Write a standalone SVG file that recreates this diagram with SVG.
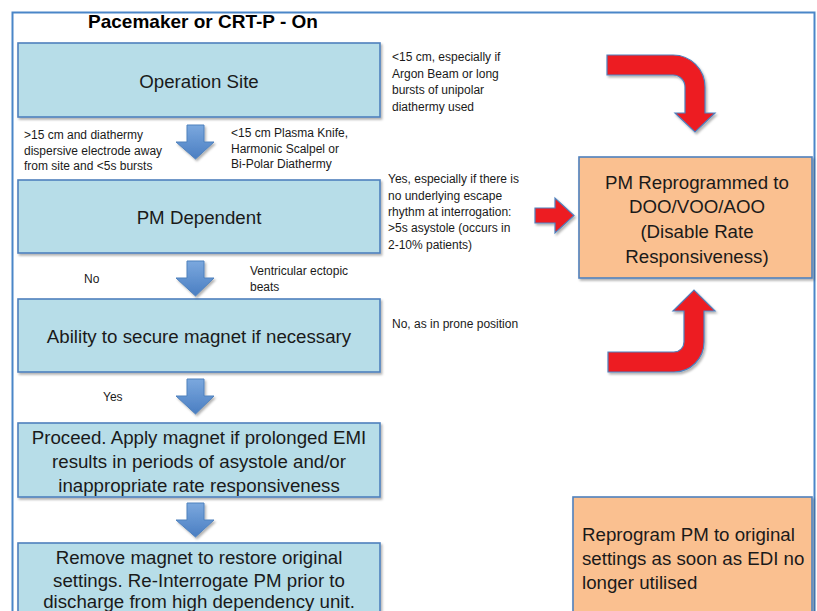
<svg xmlns="http://www.w3.org/2000/svg" width="817" height="611" viewBox="0 0 817 611">
<defs>
  <filter id="sh" x="-5%" y="-5%" width="115%" height="120%">
    <feDropShadow dx="1.5" dy="2" stdDeviation="1.2" flood-color="#000" flood-opacity="0.3"/>
  </filter>
  <linearGradient id="bg" x1="0" y1="0" x2="0" y2="1">
    <stop offset="0" stop-color="#7ba8de"/>
    <stop offset="1" stop-color="#4a7ec2"/>
  </linearGradient>
  <style>
    .box{fill:#b7dde8;stroke:#4f81bd;stroke-width:1.6;filter:url(#sh)}
    .obox{fill:#fac090;stroke:#4f81bd;stroke-width:1.6;filter:url(#sh)}
    .big{font-family:"Liberation Sans",Arial,sans-serif;font-size:18.7px;fill:#1a1a1a}
    .mid{text-anchor:middle}
    .sm{font-family:"Liberation Sans",Arial,sans-serif;font-size:12px;fill:#1a1a1a}
    .title{font-family:"Liberation Sans",Arial,sans-serif;font-size:19px;font-weight:bold;fill:#000}
    .barrow{fill:url(#bg);stroke:#4f81bd;stroke-width:1;filter:url(#sh)}
    .rarrow{fill:#ed1c24;stroke:#4f81bd;stroke-width:1.2;filter:url(#sh)}
  </style>
</defs>
<rect width="817" height="611" fill="#fff"/>
<rect id="frame" x="12.5" y="12.5" width="802" height="700" fill="none" stroke="#4a86c8" stroke-width="2"/>
<text class="title mid" x="203" y="28">Pacemaker or CRT-P - On</text>

<g id="operation-site">
  <rect class="box" x="18" y="43" width="362" height="74"/>
  <text class="big mid" x="199" y="88">Operation Site</text>
</g>
<g id="pm-dependent">
  <rect class="box" x="18" y="180" width="362" height="73"/>
  <text class="big mid" x="199" y="224">PM Dependent</text>
</g>
<g id="ability-magnet">
  <rect class="box" x="18" y="299" width="362" height="73"/>
  <text class="big mid" x="199" y="343">Ability to secure magnet if necessary</text>
</g>
<g id="proceed">
  <rect class="box" x="18" y="423" width="362" height="74"/>
  <text class="big mid" x="199" y="444">Proceed. Apply magnet if prolonged EMI</text>
  <text class="big mid" x="199" y="468">results in periods of asystole and/or</text>
  <text class="big mid" x="199" y="492">inappropriate rate responsiveness</text>
</g>
<g id="remove-magnet">
  <rect class="box" x="18" y="543" width="362" height="90"/>
  <text class="big mid" x="199" y="564">Remove magnet to restore original</text>
  <text class="big mid" x="199" y="587">settings. Re-Interrogate PM prior to</text>
  <text class="big mid" x="199" y="608">discharge from high dependency unit.</text>
</g>
<g id="pm-reprogrammed">
  <rect class="obox" x="579" y="157" width="233" height="121"/>
  <text class="big mid" x="697" y="189">PM Reprogrammed to</text>
  <text class="big mid" x="697" y="213">DOO/VOO/AOO</text>
  <text class="big mid" x="697" y="238">(Disable Rate</text>
  <text class="big mid" x="697" y="263">Responsiveness)</text>
</g>
<g id="reprogram-original">
  <rect class="obox" x="573" y="497" width="239" height="130"/>
  <text class="big" x="582" y="541">Reprogram PM to original</text>
  <text class="big" x="582" y="565">settings as soon as EDI no</text>
  <text class="big" x="582" y="589">longer utilised</text>
</g>

<g id="connectors">
  <path class="barrow" d="M187,125 H204 V142 H214 L195.5,159 L176,142 H187 Z"/>
  <path class="barrow" d="M187,261 H204 V278 H214 L195.5,296 L176,278 H187 Z"/>
  <path class="barrow" d="M187,379 H204 V396 H214 L195.5,414 L176,396 H187 Z"/>
  <path class="barrow" d="M187,503 H204 V520 H214 L195.5,537 L176,520 H187 Z"/>
  <path class="rarrow" d="M607,55 H673 A32,32 0 0 1 705,87 V113 H715 L695,132 L675,113 H685 V87 A12,12 0 0 0 673,75 H607 Z"/>
  <path class="rarrow" d="M535,208 H555 V198 L574,215.5 L555,233 V223 H535 Z"/>
  <path class="rarrow" d="M608,352 H674 A10,10 0 0 0 684,342 V311 H673 L694,290 L715,311 H704 V342 A30,30 0 0 1 674,372 H608 Z"/>
</g>

<g id="labels">
  <text class="sm" x="24" y="139">&gt;15 cm and diathermy</text>
  <text class="sm" x="24" y="155">dispersive electrode away</text>
  <text class="sm" x="24" y="170">from site and &lt;5s bursts</text>
  <text class="sm" x="231" y="137">&lt;15 cm Plasma Knife,</text>
  <text class="sm" x="231" y="153">Harmonic Scalpel or</text>
  <text class="sm" x="231" y="168">Bi-Polar Diathermy</text>
  <text class="sm" x="392" y="61">&lt;15 cm, especially if</text>
  <text class="sm" x="392" y="78">Argon Beam or long</text>
  <text class="sm" x="392" y="94">bursts of unipolar</text>
  <text class="sm" x="392" y="111">diathermy used</text>
  <text class="sm" x="388" y="183">Yes, especially if there is</text>
  <text class="sm" x="388" y="200">no underlying escape</text>
  <text class="sm" x="388" y="216">rhythm at interrogation:</text>
  <text class="sm" x="388" y="232">&gt;5s asystole (occurs in</text>
  <text class="sm" x="388" y="249">2-10% patients)</text>
  <text class="sm" x="84" y="283">No</text>
  <text class="sm" x="250" y="275">Ventricular ectopic</text>
  <text class="sm" x="250" y="291">beats</text>
  <text class="sm" x="392" y="328">No, as in prone position</text>
  <text class="sm" x="103" y="401">Yes</text>
</g>
</svg>
